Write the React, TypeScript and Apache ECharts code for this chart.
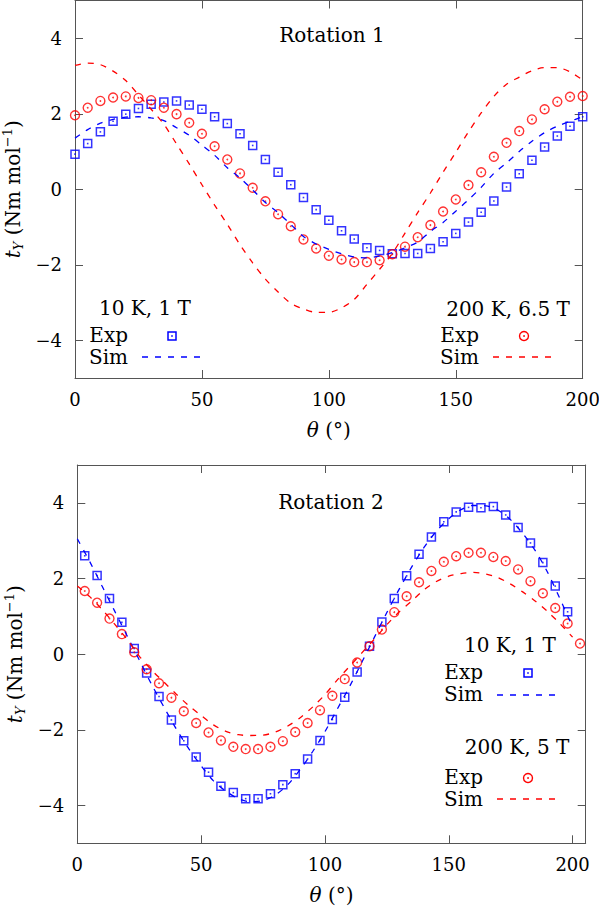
import React, { useEffect, useRef } from 'react';
import * as echarts from 'echarts';

// ---------- data ----------
const thetaTop = [0, 5, 10, 15, 20, 25, 30, 35, 40, 45, 50, 55, 60, 65, 70, 75, 80, 85, 90, 95, 100, 105, 110, 115, 120, 125, 130, 135, 140, 145, 150, 155, 160, 165, 170, 175, 180, 185, 190, 195, 200];
const expTop10K = [0.93, 1.21, 1.52, 1.80, 1.99, 2.14, 2.25, 2.31, 2.34, 2.23, 2.12, 1.92, 1.74, 1.47, 1.16, 0.79, 0.45, 0.12, -0.22, -0.54, -0.82, -1.10, -1.32, -1.55, -1.62, -1.71, -1.70, -1.70, -1.57, -1.39, -1.17, -0.87, -0.61, -0.31, 0.06, 0.41, 0.77, 1.12, 1.41, 1.67, 1.92];
const expTop200K = [1.96, 2.16, 2.34, 2.43, 2.46, 2.42, 2.36, 2.16, 1.99, 1.76, 1.47, 1.14, 0.79, 0.42, 0.04, -0.32, -0.66, -0.98, -1.33, -1.57, -1.76, -1.86, -1.93, -1.93, -1.88, -1.72, -1.52, -1.27, -0.95, -0.59, -0.27, 0.11, 0.45, 0.86, 1.23, 1.54, 1.85, 2.12, 2.32, 2.45, 2.47];
const simThetaTop = [0, 5, 10, 15, 20, 25, 30, 35, 40, 45, 50, 55, 60, 65, 70, 75, 80, 85, 90, 95, 100, 105, 110, 115, 120, 125, 130, 135, 140, 145, 150, 155, 160, 165, 170, 175, 180, 185, 190, 195, 200];
const simTop10K = [1.35, 1.58, 1.75, 1.85, 1.91, 1.92, 1.89, 1.82, 1.63, 1.43, 1.17, 0.90, 0.57, 0.30, -0.02, -0.35, -0.62, -0.93, -1.25, -1.45, -1.59, -1.71, -1.79, -1.82, -1.77, -1.68, -1.55, -1.40, -1.12, -0.88, -0.58, -0.28, 0.05, 0.42, 0.70, 1.00, 1.27, 1.50, 1.67, 1.80, 1.92];
const simTop200K = [3.28, 3.34, 3.30, 3.13, 2.88, 2.50, 2.12, 1.72, 1.20, 0.67, 0.12, -0.42, -0.93, -1.47, -1.95, -2.38, -2.72, -3.02, -3.17, -3.26, -3.26, -3.14, -2.92, -2.52, -2.12, -1.70, -1.16, -0.62, -0.10, 0.45, 0.98, 1.52, 2.02, 2.46, 2.78, 2.97, 3.14, 3.22, 3.22, 3.11, 2.89];

const thetaBottom = [3, 8, 13, 18, 23, 28, 33, 38, 43, 48, 53, 58, 63, 68, 73, 78, 83, 88, 93, 98, 103, 108, 113, 118, 123, 128, 133, 138, 143, 148, 153, 158, 163, 168, 173, 178, 183, 188, 193, 198, 203];
const expBottom10K = [2.60, 2.08, 1.47, 0.84, 0.15, -0.50, -1.12, -1.74, -2.29, -2.72, -3.12, -3.49, -3.66, -3.82, -3.82, -3.69, -3.45, -3.16, -2.77, -2.28, -1.73, -1.14, -0.47, 0.21, 0.85, 1.47, 2.07, 2.64, 3.10, 3.50, 3.76, 3.88, 3.87, 3.90, 3.68, 3.35, 2.94, 2.42, 1.80, 1.12];
const expBottom200K = [1.67, 1.36, 0.94, 0.53, 0.05, -0.40, -0.77, -1.15, -1.51, -1.82, -2.07, -2.28, -2.45, -2.51, -2.51, -2.45, -2.30, -2.06, -1.82, -1.48, -1.10, -0.66, -0.22, 0.21, 0.65, 1.11, 1.53, 1.90, 2.20, 2.44, 2.59, 2.68, 2.68, 2.57, 2.46, 2.24, 1.93, 1.61, 1.22, 0.81, 0.28];
const simThetaBottom = [0, 5, 10, 15, 20, 25, 30, 35, 40, 45, 50, 55, 60, 65, 70, 75, 80, 85, 90, 95, 100, 105, 110, 115, 120, 125, 130, 135, 140, 145, 150, 155, 160, 165, 170, 175, 180, 185, 190, 195, 200];
const simBottom10K = [3.05, 2.45, 1.80, 1.15, 0.50, -0.15, -0.80, -1.40, -1.98, -2.50, -2.95, -3.35, -3.62, -3.82, -3.90, -3.87, -3.72, -3.45, -3.05, -2.58, -2.05, -1.45, -0.85, -0.20, 0.45, 1.10, 1.72, 2.30, 2.82, 3.25, 3.58, 3.82, 3.93, 3.92, 3.80, 3.55, 3.18, 2.73, 2.15, 1.45, 0.72];
const simBottom200K = [1.80, 1.52, 1.18, 0.80, 0.40, -0.05, -0.42, -0.74, -1.06, -1.36, -1.62, -1.87, -2.04, -2.13, -2.15, -2.14, -2.06, -1.90, -1.68, -1.40, -1.07, -0.68, -0.32, 0.04, 0.40, 0.78, 1.12, 1.40, 1.70, 1.92, 2.06, 2.13, 2.16, 2.12, 2.02, 1.85, 1.64, 1.40, 1.12, 0.80, 0.45];

const xTickValues = [0, 50, 100, 150, 200];
const yTickValues = [-4, -2, 0, 2, 4];
const panelTitles = ['Rotation 1', 'Rotation 2'];
const legendHeadsTop = ['10 K, 1 T', '200 K, 6.5 T'];
const legendHeadsBottom = ['10 K, 1 T', '200 K, 5 T'];

// ---------- styling ----------
const FONT = 'DejaVu Serif';
const BLUE = '#0000ff';
const RED = '#ff0000';
const AXIS = '#555555';
const DASH = [6, 7];

const pairs = (xs: number[], ys: number[]) => ys.map((y, i) => [xs[i], y]);
const fmtNum = (v: number) => (v < 0 ? '\u2212' + Math.abs(v) : String(v));

const nameRich = {
  i: { fontStyle: 'italic', fontFamily: FONT, fontSize: 20, lineHeight: 24, color: '#000' },
  sub: { fontStyle: 'italic', fontFamily: FONT, fontSize: 13, lineHeight: 13, verticalAlign: 'bottom', color: '#000' },
  sup: { fontFamily: FONT, fontSize: 13, lineHeight: 13, verticalAlign: 'top', color: '#000' },
};

function xAxes(gridIndex: number, xMax: number) {
  const common = {
    type: 'value', gridIndex, min: 0, max: xMax,
    splitLine: { show: false },
    axisLine: { show: true, onZero: false, lineStyle: { color: AXIS, width: 1 } },
    axisTick: { show: true, inside: true, length: 8, lineStyle: { color: AXIS, width: 1 }, customValues: xTickValues },
  };
  return [
    {
      ...common, position: 'bottom',
      axisLabel: { customValues: xTickValues, margin: 12, color: '#000', fontFamily: FONT, fontSize: 18, formatter: fmtNum },
      name: '{i|\u03b8} (\u00b0)', nameLocation: 'middle', nameGap: 41,
      nameTextStyle: { fontFamily: FONT, fontSize: 20, color: '#000', lineHeight: 22, rich: { i: { fontStyle: 'italic', fontFamily: FONT, fontSize: 20, color: '#000' } } },
    },
    { ...common, position: 'top', axisLabel: { show: false } },
  ];
}

function yAxes(gridIndex: number) {
  const common = {
    type: 'value', gridIndex, min: -5, max: 5,
    splitLine: { show: false },
    axisLine: { show: true, onZero: false, lineStyle: { color: AXIS, width: 1 } },
    axisTick: { show: true, inside: true, length: 8, lineStyle: { color: AXIS, width: 1 }, customValues: yTickValues },
  };
  return [
    {
      ...common, position: 'left',
      axisLabel: { customValues: yTickValues, margin: 13, color: '#000', fontFamily: FONT, fontSize: 18, formatter: fmtNum },
      name: '{i|t}{sub|Y} (Nm mol{sup|\u22121})', nameLocation: 'middle', nameGap: 47, nameRotate: 90,
      nameTextStyle: { fontFamily: FONT, fontSize: 20, lineHeight: 24, color: '#000', rich: nameRich },
    },
    { ...common, position: 'right', axisLabel: { show: false } },
  ];
}

function panelSeries(xi: number, yi: number, expX: number[], exp10: number[], exp200: number[], simX: number[], sim10: number[], sim200: number[]) {
  const base = { xAxisIndex: xi, yAxisIndex: yi, silent: true };
  return [
    { ...base, type: 'line', data: pairs(simX, sim10), smooth: 0.3, showSymbol: false, symbol: 'none', lineStyle: { color: BLUE, width: 1.3, type: DASH } },
    { ...base, type: 'line', data: pairs(simX, sim200), smooth: 0.3, showSymbol: false, symbol: 'none', lineStyle: { color: RED, width: 1.3, type: DASH } },
    { ...base, type: 'scatter', data: pairs(expX, exp10), symbol: 'rect', symbolSize: 8, itemStyle: { color: 'rgba(0,0,0,0)', borderColor: BLUE, borderWidth: 1.5 } },
    { ...base, type: 'scatter', data: pairs(expX, exp10), symbol: 'rect', symbolSize: 1.6, itemStyle: { color: BLUE } },
    { ...base, type: 'scatter', data: pairs(expX, exp200), symbol: 'circle', symbolSize: 9, itemStyle: { color: 'rgba(0,0,0,0)', borderColor: RED, borderWidth: 1.4 } },
    { ...base, type: 'scatter', data: pairs(expX, exp200), symbol: 'circle', symbolSize: 1.8, itemStyle: { color: RED } },
  ];
}

const txt = (x: number, y: number, text: string, align: string) => ({
  type: 'text', x, y, silent: true,
  style: { text, fontFamily: FONT, fontSize: 20, lineHeight: 18, fill: '#000', align, verticalAlign: 'middle' },
});
const sq = (cx: number, cy: number) => [
  { type: 'rect', silent: true, shape: { x: cx - 4, y: cy - 4, width: 8, height: 8 }, style: { fill: 'none', stroke: BLUE, lineWidth: 1.5 } },
  { type: 'rect', silent: true, shape: { x: cx - 0.8, y: cy - 0.8, width: 1.6, height: 1.6 }, style: { fill: BLUE } },
];
const circ = (cx: number, cy: number) => [
  { type: 'circle', silent: true, shape: { cx, cy, r: 4.5 }, style: { fill: 'none', stroke: RED, lineWidth: 1.4 } },
  { type: 'circle', silent: true, shape: { cx, cy, r: 0.9 }, style: { fill: RED } },
];
const dash = (x1: number, x2: number, y: number, color: string) => ({
  type: 'line', silent: true, shape: { x1, y1: y, x2, y2: y }, style: { stroke: color, lineWidth: 1.3, lineDash: DASH },
});

export default function App() {
  const ref = useRef<HTMLDivElement>(null);
  useEffect(() => {
    if (!ref.current) return;
    const chart = echarts.init(ref.current, null, { renderer: 'svg' });
    const option: any = {
      animation: false,
      backgroundColor: '#ffffff',
      textStyle: { fontFamily: FONT },
      grid: [
        { left: 75, top: 0.5, width: 507.7, height: 377.5, outerBoundsMode: 'none', containLabel: false },
        { left: 77.3, top: 465, width: 508.4, height: 378.3, outerBoundsMode: 'none', containLabel: false },
      ],
      xAxis: [...xAxes(0, 200), ...xAxes(1, 205.3)],
      yAxis: [...yAxes(0), ...yAxes(1)],
      series: [
        ...panelSeries(0, 0, thetaTop, expTop10K, expTop200K, simThetaTop, simTop10K, simTop200K),
        ...panelSeries(2, 2, thetaBottom, expBottom10K, expBottom200K, simThetaBottom, simBottom10K, simBottom200K),
      ],
      graphic: [
        txt(332, 35, panelTitles[0], 'center'),
        txt(145, 308, legendHeadsTop[0], 'center'),
        txt(128, 335, 'Exp', 'right'),
        txt(128, 357, 'Sim', 'right'),
        ...sq(172, 336),
        dash(142, 203, 357, BLUE),
        txt(508, 309, legendHeadsTop[1], 'center'),
        txt(479, 335, 'Exp', 'right'),
        txt(479, 357, 'Sim', 'right'),
        ...circ(524, 336),
        dash(493, 555, 357, RED),

        txt(331, 502, panelTitles[1], 'center'),
        txt(510, 645, legendHeadsBottom[0], 'center'),
        txt(483, 672, 'Exp', 'right'),
        txt(483, 694, 'Sim', 'right'),
        ...sq(528, 673),
        dash(497, 558, 695, BLUE),
        txt(517, 747, legendHeadsBottom[1], 'center'),
        txt(483, 777, 'Exp', 'right'),
        txt(483, 799, 'Sim', 'right'),
        ...circ(528, 778),
        dash(497, 558, 799, RED),
      ],
    };
    chart.setOption(option);
    return () => chart.dispose();
  }, []);
  return <div ref={ref} style={{ position: 'absolute', left: 0, top: 0, width: 599, height: 909, background: '#fff' }} />;
}
